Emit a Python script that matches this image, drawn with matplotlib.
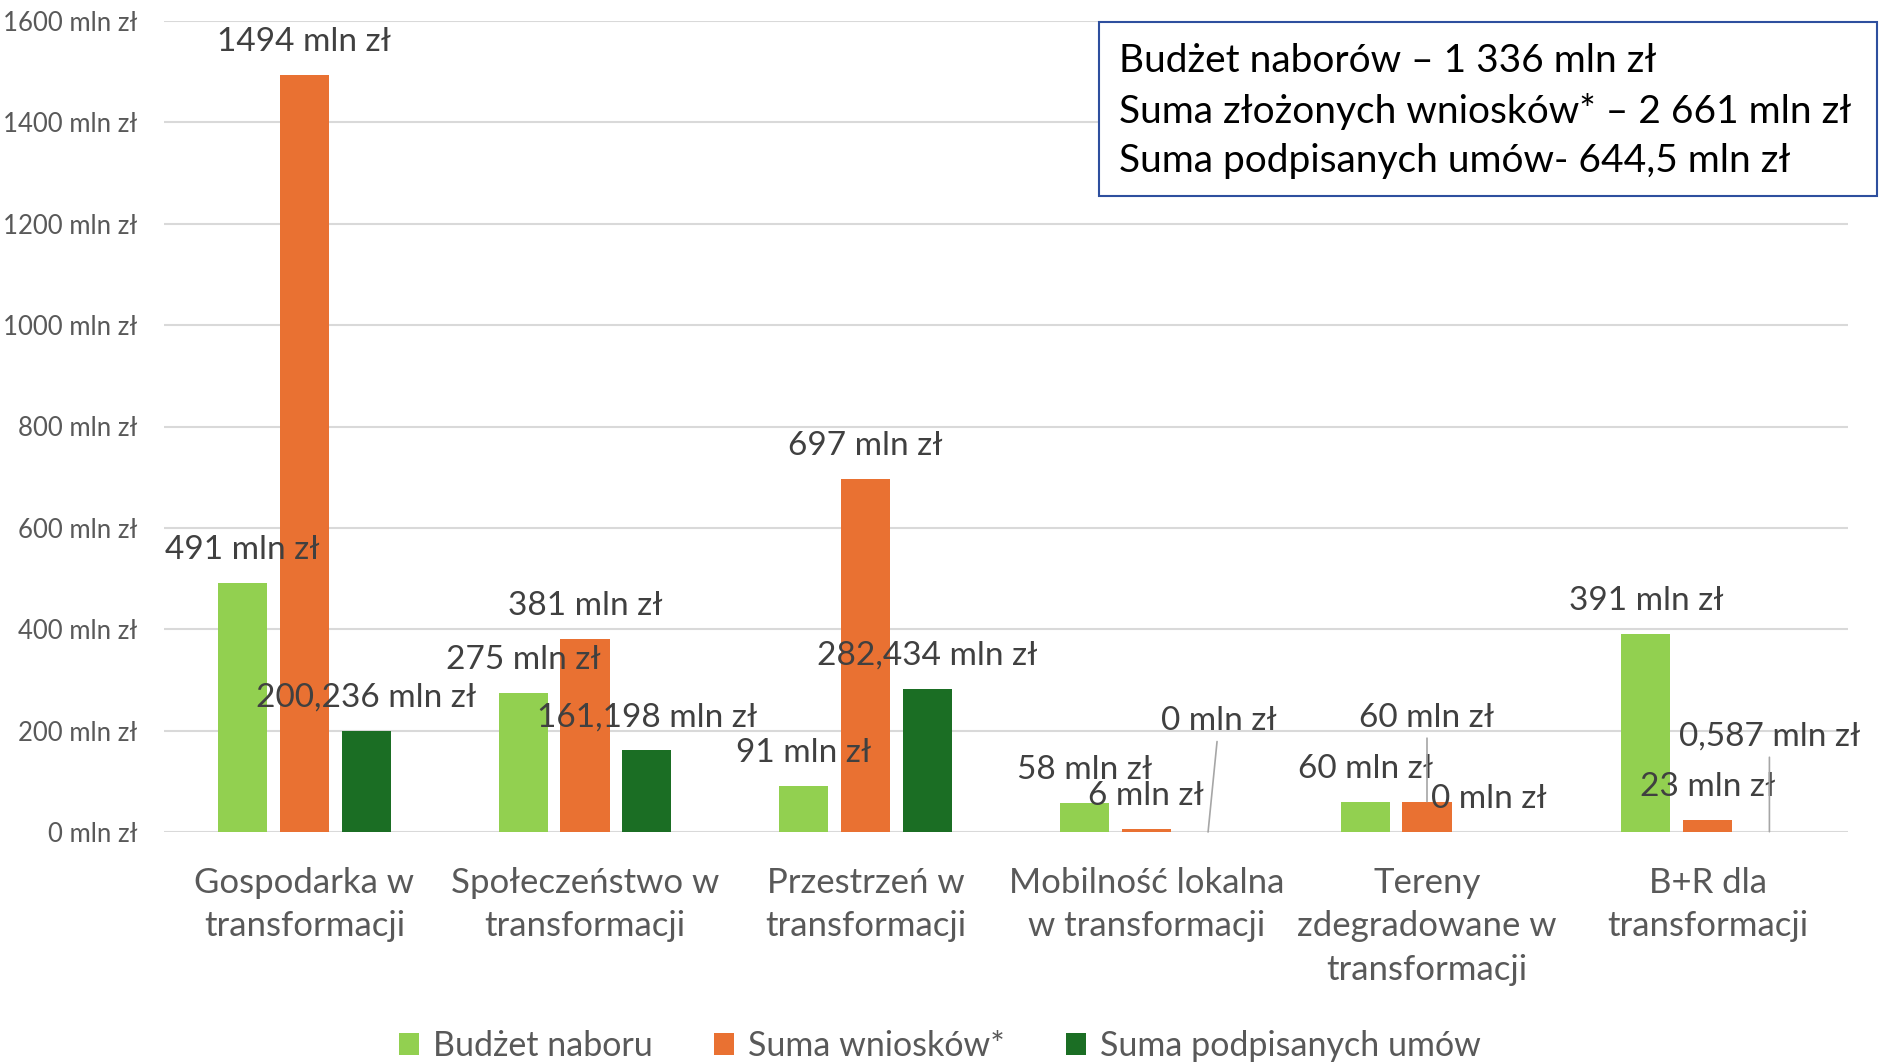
import numpy as np
import matplotlib.pyplot as plt
from matplotlib.patches import Rectangle

plt.rcParams['font.family'] = ['Lato', 'DejaVu Sans']

# data (mln zł)
categories = ["Gospodarka w\ntransformacji", "Społeczeństwo w\ntransformacji",
              "Przestrzeń w\ntransformacji", "Mobilność lokalna\nw transformacji",
              "Tereny\nzdegradowane w\ntransformacji", "B+R dla\ntransformacji"]
budzet = [491, 275, 91, 58, 60, 391]
wnioski = [1494, 381, 697, 6, 60, 23]
umowy = [200.236, 161.198, 282.434, 0, 0, 0.587]
series_names = ["Budżet naboru", "Suma wniosków*", "Suma podpisanych umów"]
yticks = [0, 200, 400, 600, 800, 1000, 1200, 1400, 1600]
summary_lines = ["Budżet naborów – 1 336 mln zł",
                 "Suma złożonych wniosków* – 2 661 mln zł",
                 "Suma podpisanych umów- 644,5 mln zł"]

colors = ["#92D050", "#E97132", "#1B6E24"]

# label offsets in pixels (dx, dy) from the bar top, per series and category
default_off = (0, 33)
special_off = {(2, 3): (11, 111), (1, 4): (0, 84), (2, 5): (0, 95)}


def fmt(v):
    if float(v).is_integer():
        return f"{int(v)} mln zł"
    return f"{v:.3f}".replace('.', ',') + " mln zł"


fig = plt.figure(figsize=(18.79, 10.62), dpi=100)
ax = fig.add_axes([164 / 1879, 1 - 832 / 1062, (1848 - 164) / 1879, (832 - 21) / 1062])

x = np.arange(len(categories))
width = 0.175
step = 0.22
all_series = [budzet, wnioski, umowy]
for s, vals in enumerate(all_series):
    pos = x + (s - 1) * step
    ax.bar(pos, vals, width, color=colors[s], label=series_names[s], zorder=2)
    for i, v in enumerate(vals):
        off = special_off.get((s, i), default_off)
        if (s, i) in special_off:
            ax.annotate(fmt(v), (pos[i], v), xytext=off, textcoords='offset pixels',
                        ha='center', va='center', fontsize=24, color='#404040',
                        arrowprops=dict(arrowstyle='-', color='#A6A6A6', lw=1.2,
                                        shrinkA=2, shrinkB=0))
        else:
            ax.annotate(fmt(v), (pos[i], v), xytext=off, textcoords='offset pixels',
                        ha='center', va='center', fontsize=24, color='#404040')

ax.set_xlim(-0.5, len(categories) - 0.5)
ax.set_ylim(0, 1600)
ax.set_yticks(yticks)
ax.set_yticklabels([f"{t} mln zł" for t in yticks], fontsize=18.5, color='#595959')
ax.set_xticks(x)
ax.set_xticklabels(categories, fontsize=25, color='#595959', linespacing=1.45)
ax.tick_params(axis='both', length=0)
ax.tick_params(axis='y', pad=19)
ax.tick_params(axis='x', pad=25)
ax.grid(axis='y', color='#D9D9D9', lw=1.5, zorder=0)
ax.set_axisbelow(True)
for sp in ax.spines.values():
    sp.set_visible(False)

fig.legend(loc='center', bbox_to_anchor=(0.5, 1 - 1046 / 1062), ncol=3, frameon=False,
           fontsize=24.5, handlelength=0.6, handleheight=0.6, handletextpad=0.4,
           columnspacing=1.8, labelcolor='#595959')

# summary box
box = Rectangle((1099 / 1879, 1 - 196 / 1062), 778 / 1879, 174 / 1062,
                transform=fig.transFigure, facecolor='white', edgecolor='#2E4F9E',
                lw=1.5, zorder=5)
fig.add_artist(box)
for k, line in enumerate(summary_lines):
    fig.text(1119 / 1879, 1 - (61 + 50 * k) / 1062, line, fontsize=28, color='black',
             ha='left', va='center', zorder=6)

fig.savefig("out.png", dpi=100)
